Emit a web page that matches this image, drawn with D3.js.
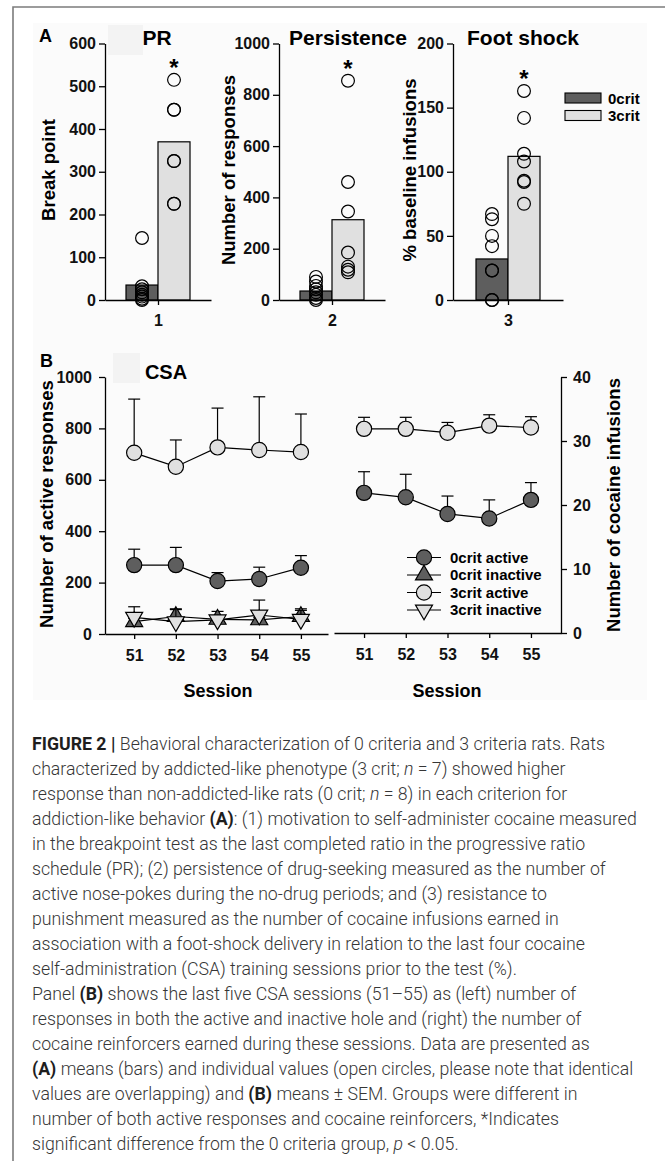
<!DOCTYPE html>
<html>
<head>
<meta charset="utf-8">
<script src="https://cdn.jsdelivr.net/npm/d3@7"></script>
<style>
  body { margin: 0; background: #fff; }
  svg { display: block; }
  .caption text { white-space: pre; }
</style>
</head>
<body>
<script>
// ---- panel A: tests
const groups = ["0crit", "3crit"]
const testNames = ["PR", "Persistence", "Foot shock"]
const testTicks = ["1", "2", "3"]
const yLabelsA = ["Break point", "Number of responses", "% baseline infusions"]
const yMaxA = [600, 1000, 200]
const yStepA = [100, 200, 50]
const barMeans = [[35, 370], [35, 313], [32, 112]]

// individual rats (open circles)
const prIndiv0 = [145, 32, 25, 18, 12, 8, 3, 0]
const prIndiv3 = [515, 445, 445, 325, 325, 225, 225]
const persIndiv0 = [90, 72, 55, 42, 30, 20, 8, 0]
const persIndiv3 = [855, 460, 345, 185, 130, 118, 108]
const shockIndiv0 = [67, 63, 50, 42, 23, 23, 0, 0]
const shockIndiv3 = [163, 142, 114, 108, 93, 92, 75]

// ---- panel B: CSA sessions
const sessions = [51, 52, 53, 54, 55]
const activeResp0 = [268, 268, 206, 214, 258]
const activeSem0 = [62, 69, 33, 46, 47]
const inactiveResp0 = [48, 68, 57, 55, 68]
const inactiveSem0 = [12, 27, 31, 10, 30]
const activeResp3 = [705, 651, 726, 716, 708]
const activeSem3 = [209, 104, 153, 207, 148]
const inactiveResp3 = [65, 48, 55, 74, 57]
const inactiveSem3 = [41, 50, 15, 58, 35]
const infusions0 = [21.9, 21.2, 18.6, 17.9, 20.8]
const infusionsSem0 = [3.3, 3.6, 2.8, 2.9, 2.7]
const infusions3 = [31.9, 31.9, 31.3, 32.4, 32.1]
const infusionsSem3 = [1.8, 1.8, 1.6, 1.7, 1.7]

const captionLines = [
  [["FIGURE 2 | ", "b"], ["Behavioral characterization of 0 criteria and 3 criteria rats. Rats"]],
  [["characterized by addicted-like phenotype (3 crit; "], ["n", "i"], [" = 7) showed higher"]],
  [["response than non-addicted-like rats (0 crit; "], ["n", "i"], [" = 8) in each criterion for"]],
  [["addiction-like behavior "], ["(A)", "b"], [": (1) motivation to self-administer cocaine measured"]],
  [["in the breakpoint test as the last completed ratio in the progressive ratio"]],
  [["schedule (PR); (2) persistence of drug-seeking measured as the number of"]],
  [["active nose-pokes during the no-drug periods; and (3) resistance to"]],
  [["punishment measured as the number of cocaine infusions earned in"]],
  [["association with a foot-shock delivery in relation to the last four cocaine"]],
  [["self-administration (CSA) training sessions prior to the test (%)."]],
  [["Panel "], ["(B)", "b"], [" shows the last five CSA sessions (51\u201355) as (left) number of"]],
  [["responses in both the active and inactive hole and (right) the number of"]],
  [["cocaine reinforcers earned during these sessions. Data are presented as"]],
  [["(A)", "b"], [" means (bars) and individual values (open circles, please note that identical"]],
  [["values are overlapping) and "], ["(B)", "b"], [" means \u00b1 SEM. Groups were different in"]],
  [["number of both active responses and cocaine reinforcers, *Indicates"]],
  [["significant difference from the 0 criteria group, "], ["p", "i"], [" < 0.05."]]
]

const font = "'Liberation Sans', Arial, sans-serif"
const dark = "#5e5e5e"
const light = "#e0e0e0"
const tickFont = 16

const svg = d3.select("body").append("svg")
    .attr("width", 665)
    .attr("height", 1161)
    .style("font-family", font)

// page frame + figure background
svg.append("rect")
    .attr("x", 33).attr("y", 23).attr("width", 614).attr("height", 677)
    .attr("fill", "#fbfbfb")
svg.append("rect")
    .attr("x", 108).attr("y", 25).attr("width", 35).attr("height", 30)
    .attr("fill", "#f3f3f3")
svg.append("rect")
    .attr("x", 113).attr("y", 353).attr("width", 27).attr("height", 30)
    .attr("fill", "#f3f3f3")
svg.append("path")
    .attr("d", "M13,1161V7H665")
    .attr("fill", "none")
    .attr("stroke", "#7c7c7c")
    .attr("stroke-width", 1.6)

const styleAxis = (g, size) => {
  g.attr("font-family", null).attr("font-size", null)
  g.select(".domain").attr("stroke", "#000").attr("stroke-width", 1.3)
  g.selectAll(".tick line").attr("stroke", "#000").attr("stroke-width", 1.3)
  g.selectAll(".tick text")
      .attr("fill", "#111")
      .style("font-family", font)
      .style("font-weight", "bold")
      .style("font-size", size + "px")
}

// ---- panel A
const indivA = [[prIndiv0, prIndiv3], [persIndiv0, persIndiv3], [shockIndiv0, shockIndiv3]]
const axisXA = [105, 279, 453]
const axisWA = [106, 106, 110]
const labelXA = [55, 235, 416]
const titleXA = [157, 348, 523]
const topA = 43.5, baseA = 300

testNames.forEach((name, i) => {
  const g = svg.append("g").attr("transform", `translate(${axisXA[i]},0)`)

  const y = d3.scaleLinear().domain([0, yMaxA[i]]).range([baseA, topA])
  const xPos = d3.scalePoint().domain([testTicks[i]]).range([0, axisWA[i]]).padding(0.5)
  const c = xPos(testTicks[i])
  const xBar = d3.scaleBand().domain(groups).range([c - 32, c + 32])

  g.selectAll(".bar")
    .data(groups)
    .join("rect")
      .attr("class", "bar")
      .attr("x", d => xBar(d))
      .attr("width", xBar.bandwidth())
      .attr("y", (d, j) => y(barMeans[i][j]))
      .attr("height", (d, j) => baseA - y(barMeans[i][j]))
      .attr("fill", (d, j) => j == 0 ? dark : light)
      .attr("stroke", "#000")
      .attr("stroke-width", 1.2)

  groups.forEach((grp, j) => {
    g.selectAll(".dot-" + j)
      .data(indivA[i][j])
      .join("circle")
        .attr("class", "dot-" + j)
        .attr("cx", xBar(grp) + xBar.bandwidth() / 2)
        .attr("cy", d => y(d))
        .attr("r", 6.4)
        .attr("fill", "none")
        .attr("stroke", "#000")
        .attr("stroke-width", 1.2)
  })

  g.append("g")
      .call(d3.axisLeft(y)
        .tickValues(d3.range(0, yMaxA[i] + 1, yStepA[i]))
        .tickFormat(d3.format("d"))
        .tickSize(6).tickPadding(3).tickSizeOuter(0))
      .call(a => styleAxis(a, tickFont))

  g.append("g")
      .attr("transform", `translate(0,${baseA})`)
      .call(d3.axisBottom(xPos).tickSize(5).tickPadding(10).tickSizeOuter(0))
      .call(a => styleAxis(a, tickFont))

  // significance star over the 3crit column
  g.append("text")
      .attr("x", xBar("3crit") + xBar.bandwidth() / 2)
      .attr("y", y(d3.max(indivA[i][1])) - 4)
      .attr("text-anchor", "middle")
      .style("font-size", "24px")
      .style("font-weight", "bold")
      .text("*")

  svg.append("text")
      .attr("x", titleXA[i])
      .attr("y", 45)
      .attr("text-anchor", "middle")
      .style("font-size", "21px")
      .style("font-weight", "bold")
      .text(name)

  svg.append("text")
      .attr("transform", `translate(${labelXA[i]},170) rotate(-90)`)
      .attr("text-anchor", "middle")
      .style("font-size", "18.5px")
      .style("font-weight", "bold")
      .text(yLabelsA[i])
})

svg.append("text")
    .attr("x", 39).attr("y", 42)
    .style("font-size", "18px").style("font-weight", "bold")
    .text("A")

const legendA = svg.append("g")
legendA.selectAll("rect")
  .data(groups)
  .join("rect")
    .attr("x", 565)
    .attr("y", (d, i) => 93 + i * 17.5)
    .attr("width", 36)
    .attr("height", 10)
    .attr("fill", (d, i) => i == 0 ? dark : light)
    .attr("stroke", "#000")
    .attr("stroke-width", 1.1)
legendA.selectAll("text")
  .data(groups)
  .join("text")
    .attr("x", 608)
    .attr("y", (d, i) => 103.5 + i * 17.5)
    .style("font-size", "15px")
    .style("font-weight", "bold")
    .text(d => d)

// ---- panel B
const xL = d3.scaleLinear().domain([50.3, 55.65]).range([105, 328])
const yL = d3.scaleLinear().domain([0, 1000]).range([634, 377])
const xR = d3.scaleLinear().domain([50.28, 55.72]).range([334, 561])
const yR = d3.scaleLinear().domain([0, 40]).range([633, 377])

const seriesLeft = [
  { key: "0crit inactive", means: inactiveResp0, sem: inactiveSem0, shape: "up", fill: dark },
  { key: "3crit inactive", means: inactiveResp3, sem: inactiveSem3, shape: "down", fill: light },
  { key: "0crit active", means: activeResp0, sem: activeSem0, shape: "circle", fill: dark },
  { key: "3crit active", means: activeResp3, sem: activeSem3, shape: "circle", fill: light }
]
const seriesRight = [
  { key: "0crit", means: infusions0, sem: infusionsSem0, shape: "circle", fill: dark },
  { key: "3crit", means: infusions3, sem: infusionsSem3, shape: "circle", fill: light }
]

const addMarker = (sel, shape, fill) => {
  if (shape == "circle") {
    sel.append("circle")
        .attr("r", 7.6)
        .attr("fill", fill)
        .attr("stroke", "#000")
        .attr("stroke-width", 1.2)
  } else {
    sel.append("path")
        .attr("d", d3.symbol(d3.symbolTriangle, 125)())
        .attr("transform", shape == "down" ? "rotate(180)" : null)
        .attr("fill", fill)
        .attr("stroke", "#000")
        .attr("stroke-width", 1.2)
  }
}

const drawSeries = (g, s, x, y) => {
  const pts = sessions.map((d, i) => ({ x: d, m: s.means[i], e: s.sem[i] }))
  const err = g.append("g")
  err.selectAll("line.v")
    .data(pts)
    .join("line")
      .attr("class", "v")
      .attr("x1", d => x(d.x)).attr("x2", d => x(d.x))
      .attr("y1", d => y(d.m)).attr("y2", d => y(d.m + d.e))
  err.selectAll("line.cap")
    .data(pts)
    .join("line")
      .attr("class", "cap")
      .attr("x1", d => x(d.x) - 6).attr("x2", d => x(d.x) + 6)
      .attr("y1", d => y(d.m + d.e)).attr("y2", d => y(d.m + d.e))
  err.selectAll("line").attr("stroke", "#000").attr("stroke-width", 1.2)

  g.append("path")
      .datum(pts)
      .attr("d", d3.line().x(d => x(d.x)).y(d => y(d.m)))
      .attr("fill", "none")
      .attr("stroke", "#000")
      .attr("stroke-width", 1.2)

  g.selectAll(null)
    .data(pts)
    .join("g")
      .attr("transform", d => `translate(${x(d.x)},${y(d.m)})`)
      .each(function () { addMarker(d3.select(this), s.shape, s.fill) })
}

const gL = svg.append("g")
seriesLeft.forEach(s => drawSeries(gL.append("g"), s, xL, yL))
const gR = svg.append("g")
seriesRight.forEach(s => drawSeries(gR.append("g"), s, xR, yR))

svg.append("g")
    .attr("transform", "translate(105,0)")
    .call(d3.axisLeft(yL).tickValues(d3.range(0, 1001, 200)).tickFormat(d3.format("d"))
      .tickSize(6).tickPadding(7).tickSizeOuter(0))
    .call(a => styleAxis(a, tickFont))
svg.append("g")
    .attr("transform", "translate(0,634)")
    .call(d3.axisBottom(xL).tickValues(sessions).tickFormat(d3.format("d"))
      .tickSize(5).tickPadding(11).tickSizeOuter(0))
    .call(a => styleAxis(a, tickFont))
svg.append("g")
    .attr("transform", "translate(561,0)")
    .call(d3.axisRight(yR).tickValues(d3.range(0, 41, 10)).tickFormat(d3.format("d"))
      .tickSize(6).tickPadding(6).tickSizeOuter(0))
    .call(a => styleAxis(a, tickFont))
svg.append("g")
    .attr("transform", "translate(0,633)")
    .call(d3.axisBottom(xR).tickValues(sessions).tickFormat(d3.format("d"))
      .tickSize(5).tickPadding(11).tickSizeOuter(0))
    .call(a => styleAxis(a, tickFont))

// legend B (legend order)
const legendOrder = [2, 0, 3, 1]
const legendB = svg.append("g")
legendOrder.forEach((k, i) => {
  const s = seriesLeft[k]
  const row = legendB.append("g").attr("transform", `translate(424,${557.5 + i * 17.5})`)
  row.append("line")
      .attr("x1", -17).attr("x2", 17)
      .attr("stroke", "#000").attr("stroke-width", 1.2)
  addMarker(row, s.shape, s.fill)
  row.append("text")
      .attr("x", 26).attr("dy", "0.36em")
      .style("font-size", "15px").style("font-weight", "bold")
      .text(s.key)
})

svg.append("text")
    .attr("x", 40).attr("y", 367)
    .style("font-size", "18px").style("font-weight", "bold")
    .text("B")
svg.append("text")
    .attr("x", 166).attr("y", 379)
    .attr("text-anchor", "middle")
    .style("font-size", "20px").style("font-weight", "bold")
    .text("CSA")
svg.append("text")
    .attr("transform", "translate(53,504) rotate(-90)")
    .attr("text-anchor", "middle")
    .style("font-size", "18.5px").style("font-weight", "bold")
    .text("Number of active responses")
svg.append("text")
    .attr("transform", "translate(620,505) rotate(-90)")
    .attr("text-anchor", "middle")
    .style("font-size", "18.5px").style("font-weight", "bold")
    .text("Number of cocaine infusions")
;[218, 447].forEach(cx => {
  svg.append("text")
      .attr("x", cx).attr("y", 697)
      .attr("text-anchor", "middle")
      .style("font-size", "18px").style("font-weight", "bold")
      .text("Session")
})

// ---- caption
const cap = svg.append("g").attr("class", "caption")
captionLines.forEach((segs, i) => {
  const t = cap.append("text")
      .attr("x", 32)
      .attr("y", 750 + i * 25)
      .style("font-family", "Roboto, 'Liberation Sans', sans-serif")
      .style("font-size", "18.5px")
  segs.forEach(([txt, f]) => {
    t.append("tspan")
        .text(txt)
        .attr("fill", f == "b" ? "#1e1e1e" : "#363636")
        .style("font-weight", f == "b" ? 700 : 300)
        .style("font-style", f == "i" ? "italic" : null)
  })
})
const widest = d3.max(cap.selectAll("text").nodes(), n => n.getComputedTextLength())
const k = (637 - 32) / widest
cap.attr("transform", `translate(32,0) scale(${k},1) translate(-32,0)`)
</script>
</body>
</html>
